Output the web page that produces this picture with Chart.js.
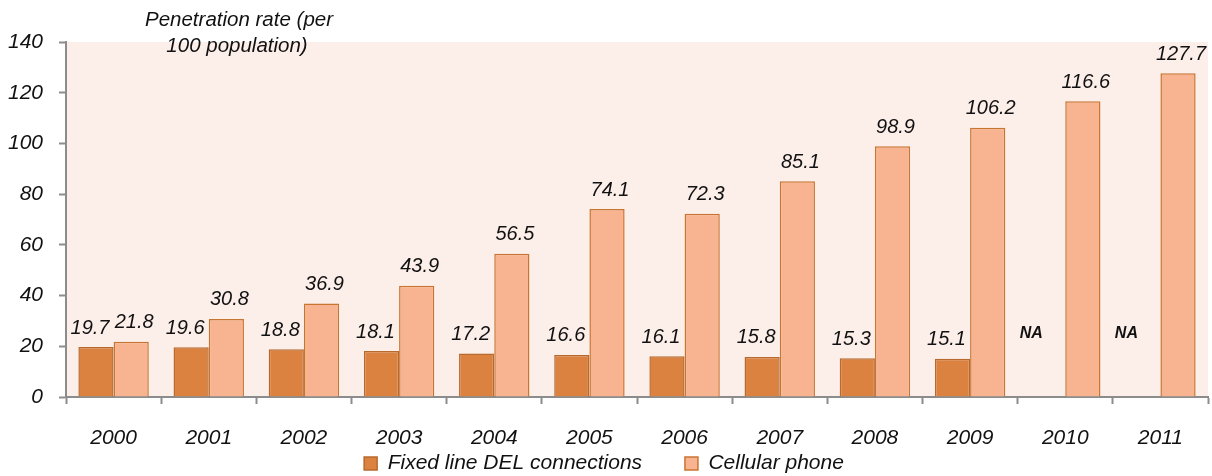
<!DOCTYPE html>
<html>
<head>
<meta charset="utf-8">
<script src="https://cdn.jsdelivr.net/npm/chart.js@4/dist/chart.umd.min.js"></script>
<style>
    html, body { margin: 0; padding: 0; background: #fff; }
    #wrap { width: 1212px; height: 476px; }
</style>
</head>
<body>
<div id="wrap"><canvas id="penChart"></canvas></div>
<script>
// Data
const years    = ["2000", "2001", "2002", "2003", "2004", "2005", "2006", "2007", "2008", "2009", "2010", "2011"];
const fixedDel = [19.7, 19.6, 18.8, 18.1, 17.2, 16.6, 16.1, 15.8, 15.3, 15.1, null, null];
const cellular = [21.8, 30.8, 36.9, 43.9, 56.5, 74.1, 72.3, 85.1, 98.9, 106.2, 116.6, 127.7];
const yTicks   = [0, 20, 40, 60, 80, 100, 120, 140];
const titleLines = ["Penetration rate (per", "100 population)"];

const FONT = "'Liberation Sans', Arial, sans-serif";

// pink plot background
const plotBg = {
    id: "plotBg",
    beforeDraw(chart) {
        const { ctx, chartArea: a } = chart;
        ctx.save();
        ctx.fillStyle = "#FCEEE9";
        ctx.fillRect(a.left, a.top, a.right - a.left, a.bottom - a.top);
        ctx.restore();
    }
};

// value labels + NA + title text
const valueLabels = {
    id: "valueLabels",
    afterDatasetsDraw(chart) {
        const { ctx } = chart;
        const xs = chart.scales.x, ys = chart.scales.y;
        ctx.save();
        ctx.fillStyle = "#111";
        ctx.textAlign = "center";
        ctx.textBaseline = "bottom";
        ctx.font = "italic 20px " + FONT;

        chart.data.datasets.forEach((ds, di) => {
            const meta = chart.getDatasetMeta(di);
            meta.data.forEach((bar, i) => {
                const v = ds.data[i];
                if (v === null) {
                    const cx = xs.getPixelForValue(i) - 34;
                    ctx.save();
                    ctx.font = "italic bold 16px " + FONT;
                    ctx.textBaseline = "middle";
                    ctx.fillText("NA", cx, ys.getPixelForValue(25));
                    ctx.restore();
                    return;
                }
                const dx = di === 0 ? -6 : 3;
                ctx.fillText(v.toFixed(1), bar.x + dx, bar.y - 9);
            });
        });

        ctx.font = "italic 20.5px " + FONT;
        ctx.textBaseline = "middle";
        ctx.fillText(titleLines[0], 239, 20);
        ctx.fillText(titleLines[1], 237, 46);
        ctx.restore();
    }
};

const ctx = document.getElementById("penChart").getContext("2d");
new Chart(ctx, {
    type: "bar",
    data: {
        labels: years,
        datasets: [
            {
                label: "Fixed line DEL connections",
                data: fixedDel,
                backgroundColor: "#DB8240",
                borderColor: "#B86A2E",
                borderWidth: 1.5,
                categoryPercentage: 0.74,
                barPercentage: 1.0
            },
            {
                label: "Cellular phone",
                data: cellular,
                backgroundColor: "#F8B490",
                borderColor: "#C97532",
                borderWidth: 1.5,
                categoryPercentage: 0.74,
                barPercentage: 1.0
            }
        ]
    },
    options: {
        responsive: true,
        maintainAspectRatio: false,
        animation: false,
        layout: { padding: { top: 42, right: 4, left: 0, bottom: 0 } },
        plugins: {
            tooltip: { enabled: false },
            legend: {
                position: "bottom",
                maxHeight: 25,
                labels: {
                    color: "#111",
                    font: { family: FONT, size: 21, style: "italic" },
                    boxWidth: 13,
                    boxHeight: 13,
                    padding: 2,
                    generateLabels(chart) {
                        const items = Chart.defaults.plugins.legend.labels.generateLabels(chart);
                        // wider gap between the two entries
                        items[0].text = items[0].text + "       ";
                        return items;
                    }
                }
            }
        },
        scales: {
            x: {
                offset: true,
                grid: {
                    offset: true,
                    drawOnChartArea: false,
                    drawTicks: true,
                    tickLength: 7,
                    tickColor: "#8c8c8c",
                    tickWidth: 2
                },
                border: { color: "#8c8c8c", width: 2 },
                ticks: {
                    color: "#111",
                    padding: 22,
                    font: { family: FONT, size: 21, style: "italic" }
                },
                afterFit(scale) { scale.height = 54; }
            },
            y: {
                min: 0,
                max: 140,
                afterBuildTicks(scale) {
                    scale.ticks = yTicks.map(v => ({ value: v }));
                },
                grid: {
                    drawOnChartArea: false,
                    tickLength: 7,
                    tickColor: "#8c8c8c",
                    tickWidth: 2
                },
                border: { color: "#8c8c8c", width: 2 },
                ticks: {
                    color: "#111",
                    padding: 16,
                    font: { family: FONT, size: 21, style: "italic" }
                },
                afterFit(scale) { scale.width = 66; }
            }
        }
    },
    plugins: [plotBg, valueLabels]
});
</script>
</body>
</html>
